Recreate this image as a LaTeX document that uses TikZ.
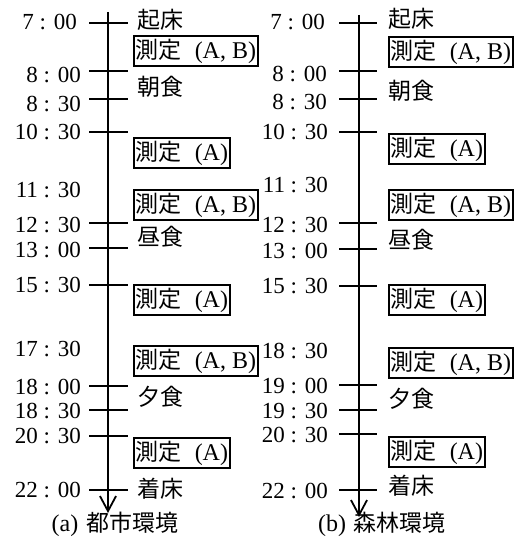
\documentclass[tikz,border=0pt]{standalone}
\usepackage{fontspec}
\setmainfont{Liberation Serif}
\newfontfamily\jp{Noto Sans CJK JP}
\usetikzlibrary{arrows.meta}
\newcommand{\sok}{{\jp\fontsize{23}{24}\selectfont 測定}\hspace{13pt}}
\begin{document}
\begin{tikzpicture}[x=1pt,y=-1pt,
  every node/.style={font=\fontsize{24}{26}\selectfont, inner sep=0pt},
  axisline/.style={line width=1.8pt, -{Straight Barb[length=15pt,width=16pt,line width=1.8pt]}},
  tickline/.style={line width=1.8pt},
  timelab/.style={anchor=base east, font=\fontsize{23}{24}\selectfont},
  eventlab/.style={anchor=west, font=\fontsize{23}{24}\selectfont\jp},
  measbox/.style={draw, line width=1.5pt, anchor=west, inner xsep=2pt, minimum height=30pt},
  caplab/.style={anchor=center},
]
\useasboundingbox (0,0) rectangle (520,548);

% ---------- (a) left panel ----------
\coordinate (la-top) at (108,12);
\coordinate (la-bot) at (108,513);
\draw[axisline] (la-top) -- (la-bot);
\foreach \n/\y in {a700/23, a800/71, a830/99, a1030/132, a1230/223, a1300/248, a1530/285, a1800/386, a1830/410, a2030/436, a2200/490}{
  \coordinate (\n-l) at (89,\y);
  \coordinate (\n-r) at (128,\y);
  \draw[tickline] (\n-l) -- (\n-r);
}
\node[timelab] (ta700)  at (77,30)  {7 : 00};
\node[timelab] (ta800)  at (81,83)  {8 : 00};
\node[timelab] (ta830)  at (81,112) {8 : 30};
\node[timelab] (ta1030) at (81,140) {10 : 30};
\node[timelab] (ta1130) at (81,197) {11 : 30};
\node[timelab] (ta1230) at (81,232) {12 : 30};
\node[timelab] (ta1300) at (81,257) {13 : 00};
\node[timelab] (ta1530) at (81,292) {15 : 30};
\node[timelab] (ta1730) at (81,356) {17 : 30};
\node[timelab] (ta1800) at (81,394) {18 : 00};
\node[timelab] (ta1830) at (81,418) {18 : 30};
\node[timelab] (ta2030) at (81,443) {20 : 30};
\node[timelab] (ta2200) at (81,497) {22 : 00};

\node[eventlab] (ea1) at (137,20)  {起床};
\node[eventlab] (ea2) at (137,87)  {朝食};
\node[eventlab] (ea3) at (137,237) {昼食};
\node[eventlab] (ea4) at (137,397) {夕食};
\node[eventlab] (ea5) at (137,489) {着床};

\node[measbox] (ba1) at (133,51)  {\sok(A, B)};
\node[measbox] (ba2) at (133,153) {\sok(A)};
\node[measbox] (ba3) at (133,205) {\sok(A, B)};
\node[measbox] (ba4) at (133,300) {\sok(A)};
\node[measbox] (ba5) at (133,361) {\sok(A, B)};
\node[measbox] (ba6) at (133,453) {\sok(A)};

\node[caplab] (capa) at (115,524) {(a)\hspace{8pt}{\jp\fontsize{23}{24}\selectfont 都市環境}};

% ---------- (b) right panel ----------
\coordinate (lb-top) at (359,15);
\coordinate (lb-bot) at (359,517);
\draw[axisline] (lb-top) -- (lb-bot);
\foreach \n/\y in {b700/23, b800/71, b830/99, b1030/132, b1230/223, b1300/249, b1530/286, b1900/385, b1930/410, b2030/434, b2200/490}{
  \coordinate (\n-l) at (339,\y);
  \coordinate (\n-r) at (377,\y);
  \draw[tickline] (\n-l) -- (\n-r);
}
\node[timelab] (tb700)  at (325,30)  {7 : 00};
\node[timelab] (tb800)  at (327,82)  {8 : 00};
\node[timelab] (tb830)  at (327,110) {8 : 30};
\node[timelab] (tb1030) at (328,140) {10 : 30};
\node[timelab] (tb1130) at (328,193) {11 : 30};
\node[timelab] (tb1230) at (328,232) {12 : 30};
\node[timelab] (tb1300) at (328,258) {13 : 00};
\node[timelab] (tb1530) at (328,293) {15 : 30};
\node[timelab] (tb1830) at (328,358) {18 : 30};
\node[timelab] (tb1900) at (328,393) {19 : 00};
\node[timelab] (tb1930) at (328,418) {19 : 30};
\node[timelab] (tb2030) at (328,442) {20 : 30};
\node[timelab] (tb2200) at (328,498) {22 : 00};

\node[eventlab] (eb1) at (388,19)  {起床};
\node[eventlab] (eb2) at (388,91)  {朝食};
\node[eventlab] (eb3) at (388,240) {昼食};
\node[eventlab] (eb4) at (388,399) {夕食};
\node[eventlab] (eb5) at (388,486) {着床};

\node[measbox] (bb1) at (388,52)  {\sok(A, B)};
\node[measbox] (bb2) at (388,149) {\sok(A)};
\node[measbox] (bb3) at (388,205) {\sok(A, B)};
\node[measbox] (bb4) at (388,300) {\sok(A)};
\node[measbox] (bb5) at (388,363) {\sok(A, B)};
\node[measbox] (bb6) at (388,452) {\sok(A)};

\node[caplab] (capb) at (382,524) {(b)\hspace{8pt}{\jp\fontsize{23}{24}\selectfont 森林環境}};
\end{tikzpicture}
\end{document}
